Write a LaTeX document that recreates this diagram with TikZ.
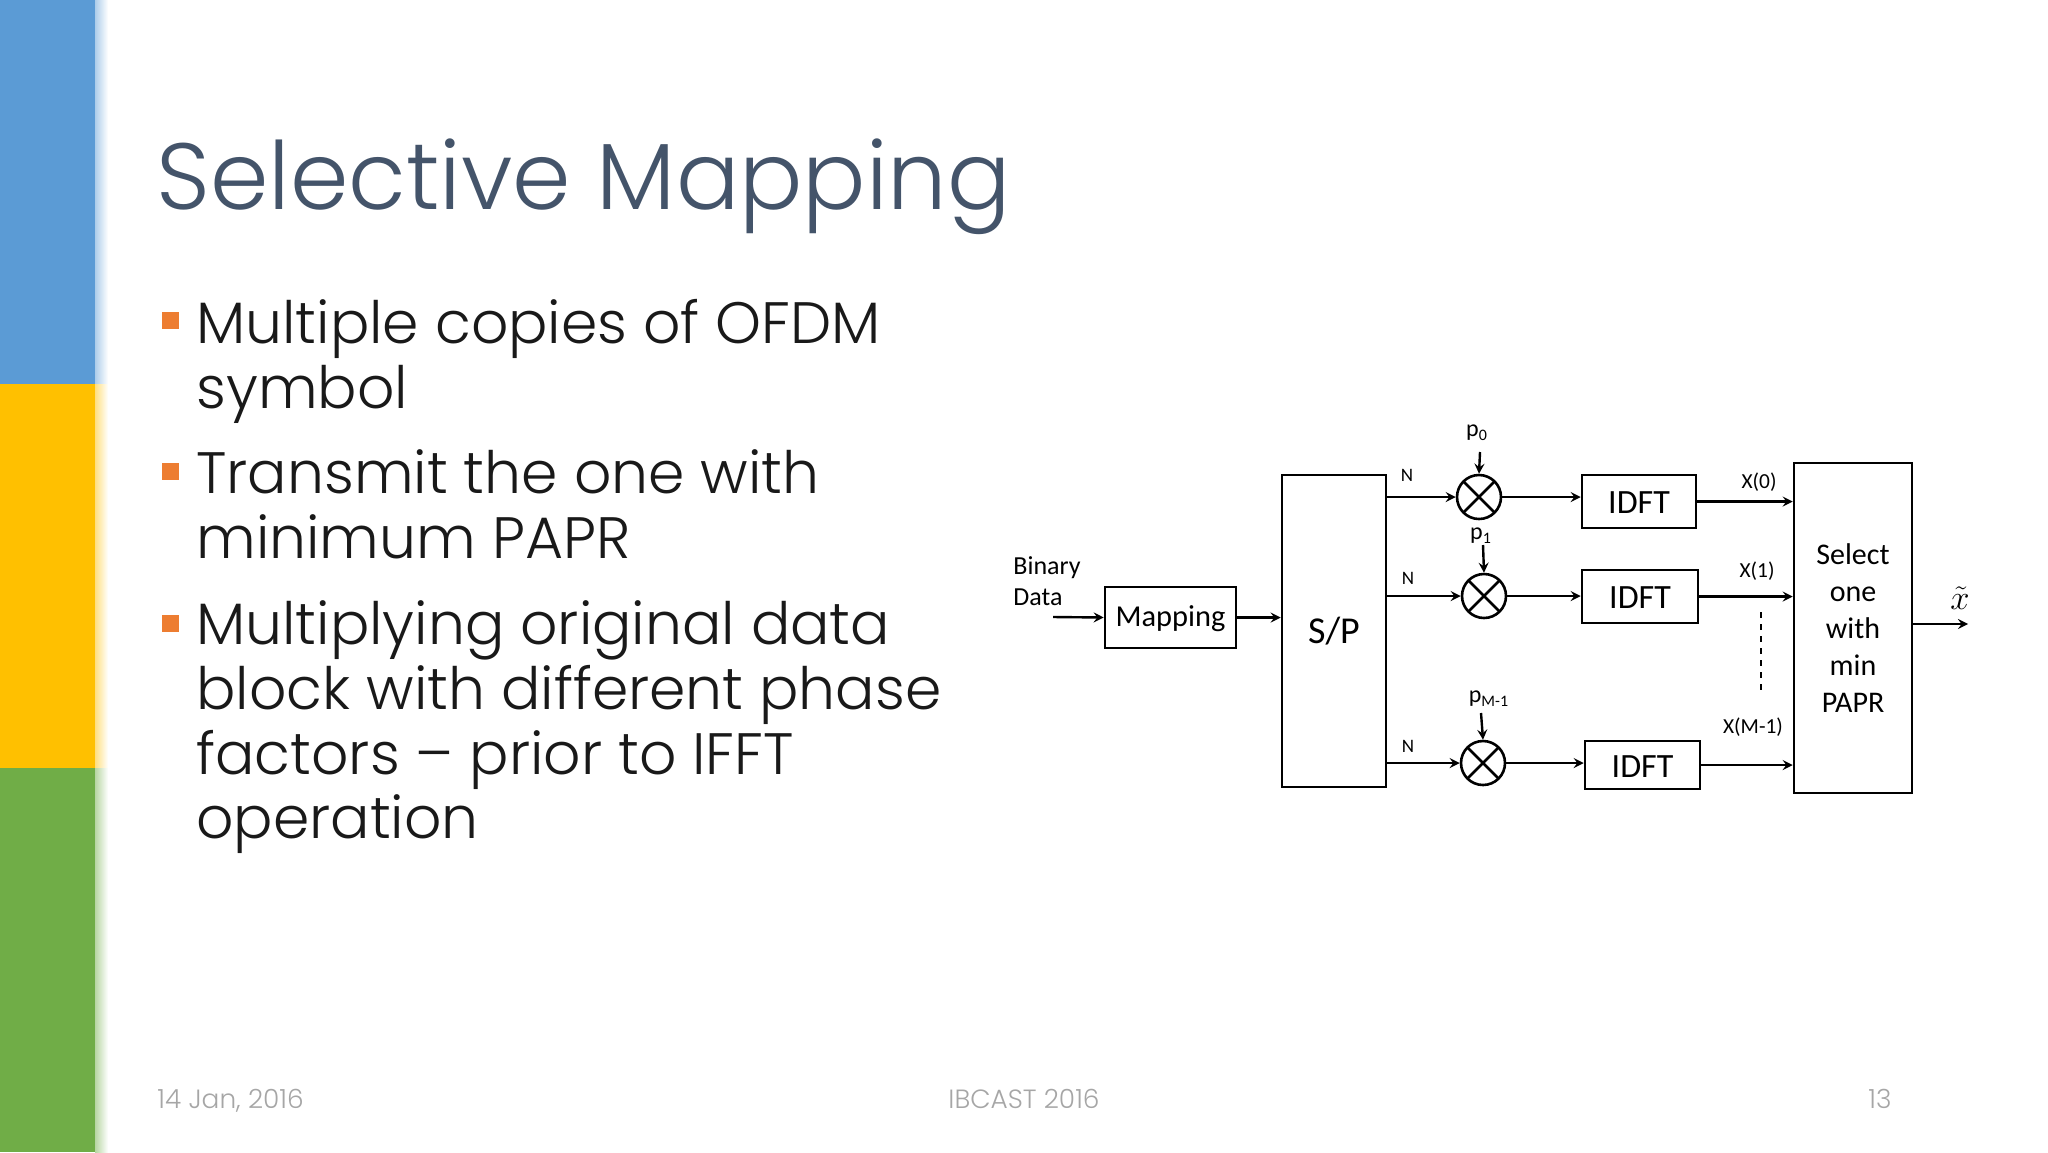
\documentclass[tikz,border=0pt]{standalone}
\usepackage{fontspec}
\setmainfont{Carlito}
\newfontfamily\slidefont{Poppins Light}
\usetikzlibrary{calc}
\definecolor{bandblue}{HTML}{5B9BD5}
\definecolor{bandyellow}{HTML}{FFC000}
\definecolor{bandgreen}{HTML}{70AD47}
\definecolor{titleblue}{HTML}{44546A}
\definecolor{bulletorange}{HTML}{ED7D31}
\definecolor{footgrey}{HTML}{A6A6A6}
\tikzset{
  blockbox/.style={draw,line width=1.3pt,rectangle,inner sep=0pt,align=center},
  idftbox/.style={blockbox,text height=12pt,font=\fontsize{17}{17}\selectfont},
  mixer/.style={draw,line width=1.3pt,circle,minimum size=22pt,inner sep=0pt,
    path picture={\draw[line width=1.3pt] (path picture bounding box.north west) -- (path picture bounding box.south east)
      (path picture bounding box.north east) -- (path picture bounding box.south west);}},
  conn/.style={line width=1.2pt,->,>=stealth},
  slideline/.style={anchor=base west,inner sep=0pt,text=black!90,font=\slidefont\fontsize{29.2}{29.2}\selectfont},
  bulletmark/.style={fill=bulletorange,inner sep=0pt,minimum size=8.5pt},
  footnode/.style={inner sep=0pt,anchor=base,text=footgrey,font=\slidefont\fontsize{13.2}{13.2}\selectfont},
  smalllabel/.style={inner sep=0pt,font=\fontsize{10.7}{12}\selectfont},
}
\begin{document}
\begin{tikzpicture}[x=0.5pt,y=-0.5pt]
\useasboundingbox (0,0) rectangle (2048,1152);
% side bands
\fill[bandblue] (0,0) rectangle (95,384);
\fill[bandyellow] (0,384) rectangle (95,768);
\fill[bandgreen] (0,768) rectangle (95,1152);
\shade[left color=bandblue!50,right color=white] (95,0) rectangle (108,384);
\shade[left color=bandyellow!50,right color=white] (95,384) rectangle (108,768);
\shade[left color=bandgreen!50,right color=white] (95,768) rectangle (108,1152);
% slide text
\node[anchor=base west,inner sep=0pt,text=titleblue,font=\slidefont\fontsize{47}{47}\selectfont] (title) at (156,209) {Selective Mapping};
\node[bulletmark] (bullet0) at (170,320) {};
\node[slideline] (line0) at (196,343) {Multiple copies of OFDM};
\node[slideline] (line1) at (196,408) {symbol};
\node[bulletmark] (bullet1) at (170,471) {};
\node[slideline] (line2) at (196,493) {Transmit the one with};
\node[slideline] (line3) at (196,558) {minimum PAPR};
\node[bulletmark] (bullet2) at (170,623) {};
\node[slideline] (line4) at (196,644) {Multiplying original data};
\node[slideline] (line5) at (196,709) {block with different phase};
\node[slideline] (line6) at (196,774) {factors – prior to IFFT};
\node[slideline] (line7) at (196,838) {operation};
\node[footnode,anchor=base west] (date) at (157,1108) {14 Jan, 2016};
\node[footnode] (conf) at (1024,1108) {IBCAST 2016};
\node[footnode,anchor=base east] (page) at (1892,1108) {13};
% blocks
\node[blockbox,minimum width=65.5pt,minimum height=30.5pt,text depth=1pt,font=\fontsize{15.2}{15.2}\selectfont] (map) at (1170.5,617.5) {Mapping};
\node[blockbox,minimum width=52pt,minimum height=156pt,font=\fontsize{19}{19}\selectfont] (sp) at (1334,631) {S/P};
\node[mixer] (mix0) at (1479,497) {};
\node[mixer] (mix1) at (1484,596) {};
\node[mixer] (mix2) at (1483,763) {};
\node[idftbox,minimum width=57pt,minimum height=26.5pt] (idft0) at (1639,501.5) {IDFT};
\node[idftbox,minimum width=58pt,minimum height=26.5pt] (idft1) at (1640,596.5) {IDFT};
\node[idftbox,minimum width=57.5pt,minimum height=24pt] (idft2) at (1642.5,765) {IDFT};
\node[blockbox,minimum width=59pt,minimum height=165pt,font=\fontsize{15}{18.5}\selectfont] (sel) at (1853,628) {Select\\one\\with\\min\\PAPR};
% labels
\node[inner sep=0pt,anchor=base west,font=\fontsize{13}{13}\selectfont] (binary) at (1013,574) {Binary};
\node[inner sep=0pt,anchor=base west,font=\fontsize{13}{13}\selectfont] (data) at (1013,605) {Data};
\coordinate (in) at (1053,617);
\coordinate (p0) at (1480,452);
\coordinate (p1) at (1483,545);
\coordinate (p2) at (1481,713);
\coordinate (out) at (1968,624);
\node[smalllabel,font=\fontsize{12}{12}\selectfont] (lab0) at (1477,433) {p\textsubscript{0}};
\node[smalllabel,font=\fontsize{12}{12}\selectfont] (lab1) at (1481,536) {p\textsubscript{1}};
\node[smalllabel,font=\fontsize{12}{12}\selectfont] (lab2) at (1489,699) {p\textsubscript{M-1}};
\node[smalllabel,font=\fontsize{9.5}{10}\selectfont] (n0) at (1407,475) {N};
\node[smalllabel,font=\fontsize{9.5}{10}\selectfont] (n1) at (1408,578) {N};
\node[smalllabel,font=\fontsize{9.5}{10}\selectfont] (n2) at (1408,746) {N};
\node[smalllabel] (x0) at (1759,482) {X(0)};
\node[smalllabel] (x1) at (1757,571) {X(1)};
\node[smalllabel] (x2) at (1753,727) {X(M-1)};
\node[inner sep=0pt,font=\fontsize{17}{17}\selectfont] (xout) at (1960,598) {$\tilde{x}$};
% connectors
\draw[conn] (in) -- (map.west);
\draw[conn] (map.east) -- (map.east -| sp.west);
\draw[conn] (mix0.west -| sp.east) -- (mix0.west);
\draw[conn] (mix1.west -| sp.east) -- (mix1.west);
\draw[conn] (mix2.west -| sp.east) -- (mix2.west);
\draw[conn] (p0) -- (mix0.north);
\draw[conn] (p1) -- (mix1.north);
\draw[conn] (p2) -- (mix2.north);
\draw[conn] (mix0.east) -- (mix0.east -| idft0.west);
\draw[conn] (mix1.east) -- (mix1.east -| idft1.west);
\draw[conn] (mix2.east) -- (mix2.east -| idft2.west);
\draw[conn] (idft0.east) -- (idft0.east -| sel.west);
\draw[conn] (idft1.east) -- (idft1.east -| sel.west);
\draw[conn] (idft2.east) -- (idft2.east -| sel.west);
\draw[conn] (out -| sel.east) -- (out);
\coordinate (dash0) at (1761,612);
\coordinate (dash1) at (1761,691);
\draw[line width=1.2pt,dashed] (dash0) -- (dash1);
\end{tikzpicture}
\end{document}
